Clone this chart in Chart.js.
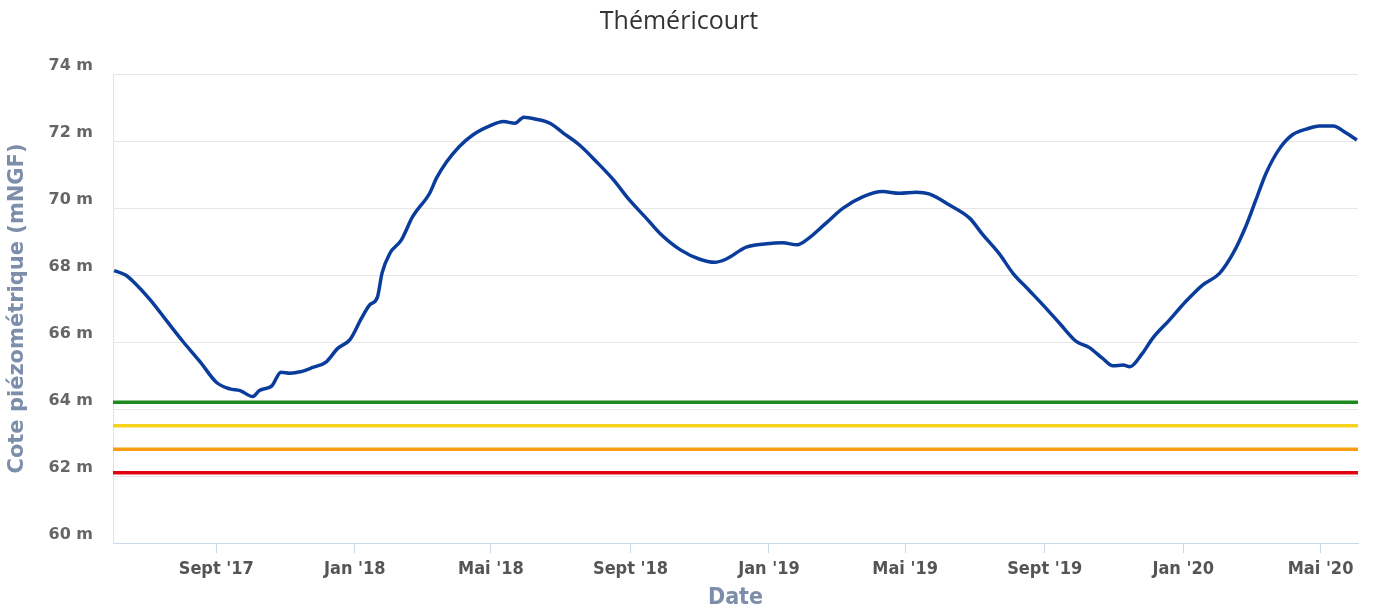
<!DOCTYPE html>
<html>
<head>
<meta charset="utf-8">
<title>Théméricourt</title>
<script src="https://cdn.jsdelivr.net/npm/chart.js@4.4.1/dist/chart.umd.min.js"></script>
<style>
    body { margin: 0; background: #fff; }
</style>
</head>
<body>
<canvas id="chartPiezo" width="1375" height="612"></canvas>
<script>
const dates = [
    '2017-06-03', '2017-06-13', '2017-06-20', '2017-07-05', '2017-07-20', '2017-08-03', '2017-08-18', '2017-09-01',
    '2017-09-13', '2017-09-22', '2017-10-03', '2017-10-09', '2017-10-20', '2017-10-28', '2017-11-05', '2017-11-14',
    '2017-11-25', '2017-12-07', '2017-12-17', '2017-12-28',
    '2018-01-07', '2018-01-14', '2018-01-21', '2018-01-25', '2018-02-01', '2018-02-11', '2018-02-21', '2018-03-08',
    '2018-03-14', '2018-03-23', '2018-04-03', '2018-04-15', '2018-04-30', '2018-05-12', '2018-05-22', '2018-05-30',
    '2018-06-10', '2018-06-22', '2018-07-04', '2018-07-18', '2018-08-02', '2018-08-17', '2018-08-31', '2018-09-15',
    '2018-09-27', '2018-10-15', '2018-11-01', '2018-11-14', '2018-11-24', '2018-12-12', '2018-12-30',
    '2019-01-13', '2019-01-26', '2019-02-04', '2019-02-20', '2019-03-07', '2019-03-25', '2019-04-11', '2019-04-26',
    '2019-05-11', '2019-05-22', '2019-06-09', '2019-06-27', '2019-07-08', '2019-07-23', '2019-08-04', '2019-08-18',
    '2019-09-02', '2019-09-14', '2019-09-29', '2019-10-10', '2019-10-22', '2019-10-31', '2019-11-09', '2019-11-15',
    '2019-11-26', '2019-12-05', '2019-12-20',
    '2020-01-03', '2020-01-18', '2020-02-02', '2020-02-14', '2020-02-25', '2020-03-05', '2020-03-14', '2020-03-26',
    '2020-04-06', '2020-04-21', '2020-04-30', '2020-05-12', '2020-05-24', '2020-06-02'
];
const levels = [
    68.13, 68.0, 67.8, 67.25, 66.6, 66.0, 65.4, 64.8,
    64.6, 64.55, 64.37, 64.55, 64.69, 65.1, 65.07, 65.11,
    65.24, 65.41, 65.81, 66.08,
    66.71, 67.1, 67.34, 68.05, 68.65, 69.04, 69.74, 70.44,
    70.89, 71.38, 71.83, 72.18, 72.45, 72.58, 72.53, 72.71,
    72.65, 72.53, 72.23, 71.88, 71.38, 70.84, 70.24, 69.69,
    69.24, 68.75, 68.47, 68.38, 68.47, 68.83, 68.93,
    68.96, 68.9, 69.07, 69.54, 69.99, 70.34, 70.49, 70.44,
    70.47, 70.42, 70.09, 69.69, 69.22, 68.63, 68.05, 67.55,
    67.01, 66.56, 66.01, 65.84, 65.51, 65.29, 65.31, 65.26,
    65.66, 66.11, 66.66,
    67.2, 67.7, 68.05, 68.65, 69.44, 70.24, 71.04, 71.78,
    72.18, 72.38, 72.45, 72.45, 72.23, 72.03
];

// Seuils (vigilance, alerte, alerte renforcée, crise)
const seuils = [64.2, 63.5, 62.8, 62.1];
const seuilColors = ['#1c8a1c', '#f5d31c', '#f99d12', '#e3000f'];

// Axe des dates
const dateMin = '2017-06-02';
const dateMax = '2020-06-03';
const tickDates = ['2017-09-01', '2018-01-01', '2018-05-01', '2018-09-01', '2019-01-01',
    '2019-05-01', '2019-09-01', '2020-01-01', '2020-05-01'];
const tickLabels = ["Sept '17", "Jan '18", "Mai '18", "Sept '18", "Jan '19",
    "Mai '19", "Sept '19", "Jan '20", "Mai '20"];
const yTicks = [60, 62, 64, 66, 68, 70, 72, 74];

function initChart() {
    const xMin = Date.parse(dateMin);
    const xMax = Date.parse(dateMax);
    const narrow = "'Liberation Sans Narrow', 'DejaVu Sans Condensed', sans-serif";

    const datasets = [];
    seuils.forEach(function (s, i) {
        datasets.push({
            data: [{ x: xMin, y: s }, { x: xMax, y: s }],
            borderColor: seuilColors[i],
            borderWidth: 3.5,
            pointRadius: 0
        });
    });
    datasets.push({
        data: dates.map(function (d, i) { return { x: Date.parse(d), y: levels[i] }; }),
        borderColor: '#0a3d9b',
        borderWidth: 3.5,
        pointRadius: 0,
        cubicInterpolationMode: 'monotone'
    });

    new Chart(document.getElementById('chartPiezo'), {
        type: 'line',
        data: { datasets: datasets },
        options: {
            responsive: false,
            animation: false,
            layout: { padding: { left: 0, right: 17, top: 0, bottom: 0 } },
            plugins: {
                legend: { display: false },
                tooltip: { enabled: false },
                title: {
                    display: true,
                    text: 'Théméricourt',
                    color: '#333',
                    font: { family: "'Open Sans', sans-serif", size: 25, weight: 'normal' },
                    padding: { top: 7, bottom: 37 }
                }
            },
            scales: {
                x: {
                    type: 'linear',
                    min: xMin,
                    max: xMax,
                    afterBuildTicks: function (scale) {
                        scale.ticks = tickDates.map(function (d) { return { value: Date.parse(d) }; });
                    },
                    afterFit: function (scale) { scale.height = 69; },
                    ticks: {
                        autoSkip: false,
                        maxRotation: 0,
                        padding: 6,
                        color: '#555',
                        font: { family: narrow, size: 18, weight: 'bold' },
                        callback: function (v, i) { return tickLabels[i]; }
                    },
                    grid: { drawOnChartArea: false, drawTicks: true, tickLength: 10, color: '#ccd6eb' },
                    border: { color: '#ccd6eb' },
                    title: {
                        display: true,
                        text: 'Date',
                        color: '#7d8eab',
                        font: { family: narrow, size: 23, weight: 'bold' },
                        padding: { top: 0, bottom: 0 }
                    }
                },
                y: {
                    min: 60,
                    max: 74,
                    afterBuildTicks: function (scale) {
                        scale.ticks = yTicks.map(function (v) { return { value: v }; });
                    },
                    afterFit: function (scale) { scale.width = 113; },
                    ticks: {
                        padding: 20,
                        labelOffset: -8,
                        color: '#666',
                        font: { family: "'DejaVu Sans', sans-serif", size: 16, weight: 'bold' },
                        callback: function (v) { return v + ' m'; }
                    },
                    grid: { color: '#e6e6e6', drawTicks: false },
                    border: { color: '#dde2ee' },
                    title: {
                        display: true,
                        text: 'Cote piézométrique (mNGF)',
                        color: '#7d8eab',
                        font: { family: "'DejaVu Sans', sans-serif", size: 21, weight: 'bold' },
                        padding: { top: 5, bottom: 0 }
                    }
                }
            }
        }
    });
}

initChart();
</script>
</body>
</html>
